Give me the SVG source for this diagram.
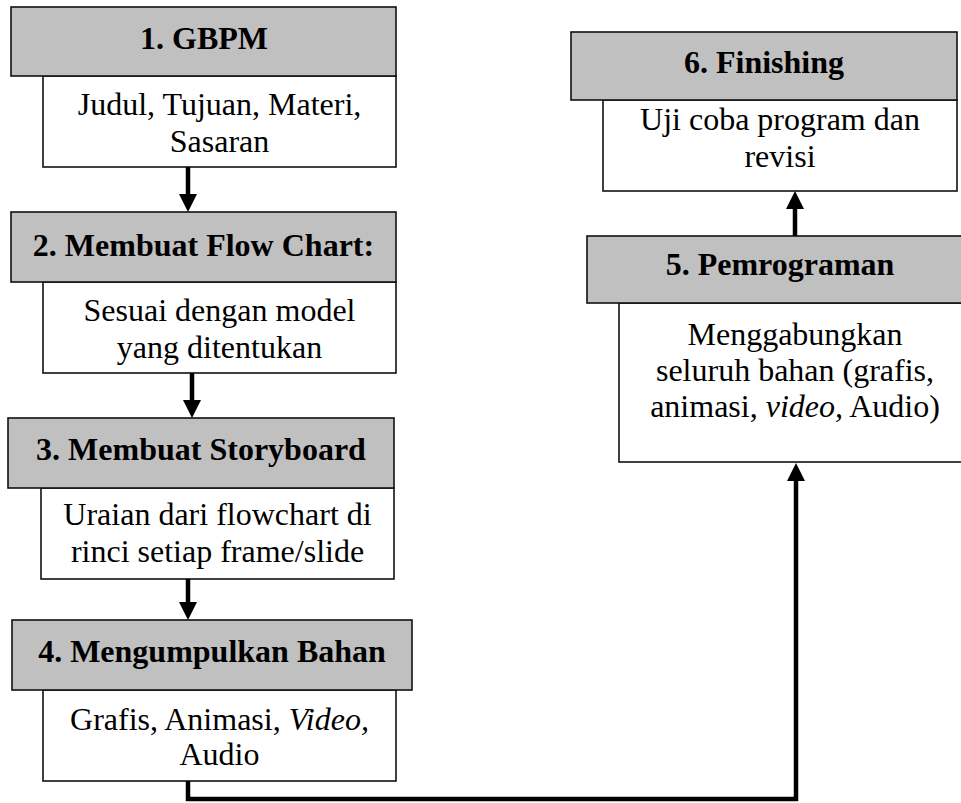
<svg xmlns="http://www.w3.org/2000/svg" width="961" height="803" viewBox="0 0 961 803">
  <style>
    .hd { fill: #c0c0c0; stroke: #111; stroke-width: 1.6; }
    .bd { fill: #ffffff; stroke: #111; stroke-width: 1.6; }
    .ht { font-family: "Liberation Serif", "Times New Roman", serif; font-size: 32px; font-weight: bold; fill: #000; text-anchor: middle; }
    .bt { font-family: "Liberation Serif", "Times New Roman", serif; font-size: 32px; fill: #000; text-anchor: middle; }
    .cn { fill: none; stroke: #000; stroke-width: 4.5; stroke-linejoin: miter; }
  </style>
  <defs>
    <marker id="head" viewBox="0 0 18 18" markerWidth="18" markerHeight="18" markerUnits="userSpaceOnUse" refX="6" refY="9" orient="auto">
      <path d="M0,0 L18,9 L0,18 z" fill="#000"/>
    </marker>
  </defs>
  <rect width="961" height="803" fill="#ffffff"/>

  <g id="step1">
    <rect class="bd" x="43" y="76" width="353" height="91"/>
    <rect class="hd" x="11" y="7" width="385" height="69"/>
    <text class="ht" x="204" y="49">1. GBPM</text>
    <text class="bt" x="219.5" y="115">Judul, Tujuan, Materi,</text>
    <text class="bt" x="219.5" y="152">Sasaran</text>
  </g>

  <g id="step2">
    <rect class="bd" x="43" y="282" width="353" height="91"/>
    <rect class="hd" x="11" y="212" width="385" height="70"/>
    <text class="ht" x="203.5" y="256">2. Membuat Flow Chart:</text>
    <text class="bt" x="219.5" y="321">Sesuai dengan model</text>
    <text class="bt" x="219.5" y="358">yang ditentukan</text>
  </g>

  <g id="step3">
    <rect class="bd" x="41" y="488" width="353" height="91"/>
    <rect class="hd" x="8" y="418" width="386" height="70"/>
    <text class="ht" x="201" y="460">3. Membuat Storyboard</text>
    <text class="bt" x="217.5" y="525">Uraian dari flowchart di</text>
    <text class="bt" x="217.5" y="562">rinci setiap frame/slide</text>
  </g>

  <g id="step4">
    <rect class="bd" x="43" y="690" width="353" height="91"/>
    <rect class="hd" x="12" y="620" width="400" height="70"/>
    <text class="ht" x="212" y="662">4. Mengumpulkan Bahan</text>
    <text class="bt" x="219.5" y="730">Grafis, Animasi, <tspan font-style="italic">Video,</tspan></text>
    <text class="bt" x="219.5" y="765">Audio</text>
  </g>

  <g id="step5">
    <rect class="bd" x="619" y="303" width="354" height="159"/>
    <rect class="hd" x="587" y="236" width="386" height="67"/>
    <text class="ht" x="780" y="275">5. Pemrograman</text>
    <text class="bt" x="795" y="345">Menggabungkan</text>
    <text class="bt" x="795" y="381">seluruh bahan (grafis,</text>
    <text class="bt" x="795" y="417">animasi, <tspan font-style="italic">video,</tspan> Audio)</text>
  </g>

  <g id="step6">
    <rect class="bd" x="603" y="100" width="354" height="91"/>
    <rect class="hd" x="571" y="32" width="386" height="68"/>
    <text class="ht" x="764" y="73">6. Finishing</text>
    <text class="bt" x="780" y="130">Uji coba program dan</text>
    <text class="bt" x="780" y="167">revisi</text>
  </g>

  <g id="connectors">
    <path class="cn" d="M188,167 V200" marker-end="url(#head)"/>
    <path class="cn" d="M192,373 V406" marker-end="url(#head)"/>
    <path class="cn" d="M188,579 V608" marker-end="url(#head)"/>
    <path class="cn" d="M188,781 V799 H796 V475" marker-end="url(#head)"/>
    <path class="cn" d="M795,236 V203" marker-end="url(#head)"/>
  </g>
</svg>
